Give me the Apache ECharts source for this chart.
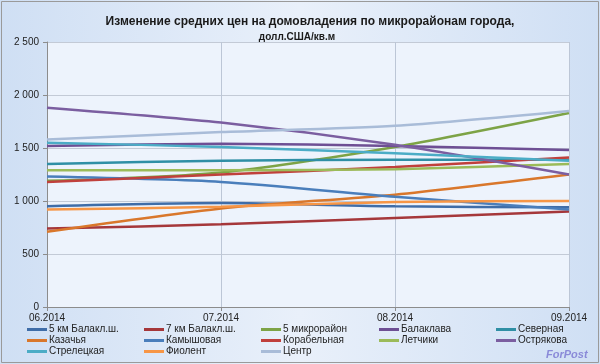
<!DOCTYPE html>
<html><head><meta charset="utf-8">
<script src="https://cdn.jsdelivr.net/npm/echarts@6/dist/echarts.min.js"></script>
<style>html,body{margin:0;padding:0;}#c{width:600px;height:364px;}</style>
</head><body><div id="c"></div>
<script>
const categories = ['06.2014','07.2014','08.2014','09.2014'];
const seriesNames = ['5 км Балакл.ш.','7 км Балакл.ш.','5 микрорайон','Балаклава','Северная','Казачья','Камышовая','Корабельная','Летчики','Острякова','Стрелецкая','Фиолент','Центр'];
const km5 = [950, 980, 950, 940];
const km7 = [740, 780, 840, 900];
const mkr5 = [1190, 1270, 1510, 1830];
const balaklava = [1520, 1540, 1520, 1480];
const severnaya = [1350, 1380, 1390, 1390];
const kazachya = [710, 930, 1060, 1250];
const kamyshovaya = [1230, 1180, 1040, 920];
const korabelnaya = [1180, 1250, 1320, 1410];
const letchiki = [1290, 1290, 1300, 1350];
const ostryakova = [1880, 1740, 1530, 1250];
const streletskaya = [1550, 1510, 1450, 1380];
const fiolent = [920, 945, 990, 1000];
const centr = [1580, 1650, 1710, 1850];
const yTicks = [0, 500, 1000, 1500, 2000, 2500];

const values = [km5, km7, mkr5, balaklava, severnaya, kazachya, kamyshovaya, korabelnaya, letchiki, ostryakova, streletskaya, fiolent, centr];
const colors = ['#3F6DA8','#A5373A','#7DA346','#6E4F94','#2F8FA5','#D9772B','#4A7EBB','#C0403C','#9BBB59','#7B5EA0','#4BACC6','#F79646','#A9BCD8'];

const chart = echarts.init(document.getElementById('c'));
const legendLefts = [27, 144, 261, 379, 496];
const legendTops = [324, 335, 346];
const legends = seriesNames.map((n, i) => ({
  left: legendLefts[i % 5], top: legendTops[Math.floor(i / 5)],
  itemWidth: 20, itemHeight: 3, icon: 'rect', padding: 0,
  textStyle: { fontFamily: 'Liberation Sans', fontSize: 10, color: '#222', lineHeight: 11, padding: [0,0,0,-3] },
  data: [n]
}));

chart.setOption({
  animation: false,
  color: colors,
  backgroundColor: new echarts.graphic.LinearGradient(0,0,1,0,[
    {offset:0,color:'#cfdff4'},{offset:0.5,color:'#e9f0fa'},{offset:1,color:'#cfdff4'}]),
  title: [{
    text: 'Изменение средних цен на домовладения по микрорайонам города,',
    left: 305, top: 11, textAlign: 'center',
    textStyle: { fontFamily: 'Liberation Sans', fontSize: 12, fontWeight: 'bold', color: '#1a1a1a' }
  }, {
    text: 'долл.США/кв.м',
    left: 292, top: 27, textAlign: 'center',
    textStyle: { fontFamily: 'Liberation Sans', fontSize: 10, fontWeight: 'bold', color: '#1a1a1a' }
  }],
  legend: legends,
  graphic: [
    { type: 'rect', shape: { x: 1.5, y: 1.5, width: 597, height: 361 }, style: { fill: 'none', stroke: '#9a9a9a', lineWidth: 1 }, z: 100 },
    { type: 'text', left: 546, top: 349, style: { text: 'ForPost', font: 'italic bold 11px Liberation Sans', fill: '#8a8ad8' }, z: 100 }
  ],
  grid: { left: 47, right: 31, top: 42, bottom: 57, show: true, backgroundColor: '#edf3fc', borderWidth: 0 },
  xAxis: {
    type: 'category', data: categories, boundaryGap: false,
    axisLine: { lineStyle: { color: '#8c8c8c' } },
    axisTick: { show: true, length: 4, lineStyle: { color: '#8c8c8c' } },
    axisLabel: { fontFamily: 'Liberation Sans', fontSize: 10, color: '#222', margin: 6 },
    splitLine: { show: true, lineStyle: { color: '#bcc6d6' } }
  },
  yAxis: {
    type: 'value', min: 0, max: 2500, interval: 500,
    axisLine: { show: true, lineStyle: { color: '#8c8c8c' } },
    axisTick: { show: true, length: 4, lineStyle: { color: '#8c8c8c' } },
    axisLabel: { fontFamily: 'Liberation Sans', fontSize: 10, color: '#222', margin: 8,
      formatter: v => yTicks.includes(v) ? String(v).replace(/\B(?=(\d{3})+(?!\d))/g, ' ') : '' },
    splitLine: { lineStyle: { color: '#c3cad6' } }
  },
  series: values.map((d, i) => ({
    name: seriesNames[i], type: 'line', data: d, smooth: 0.25,
    showSymbol: false, symbol: 'none',
    lineStyle: { width: 2.5, color: colors[i] }, itemStyle: { color: colors[i] }
  }))
});
</script></body></html>
